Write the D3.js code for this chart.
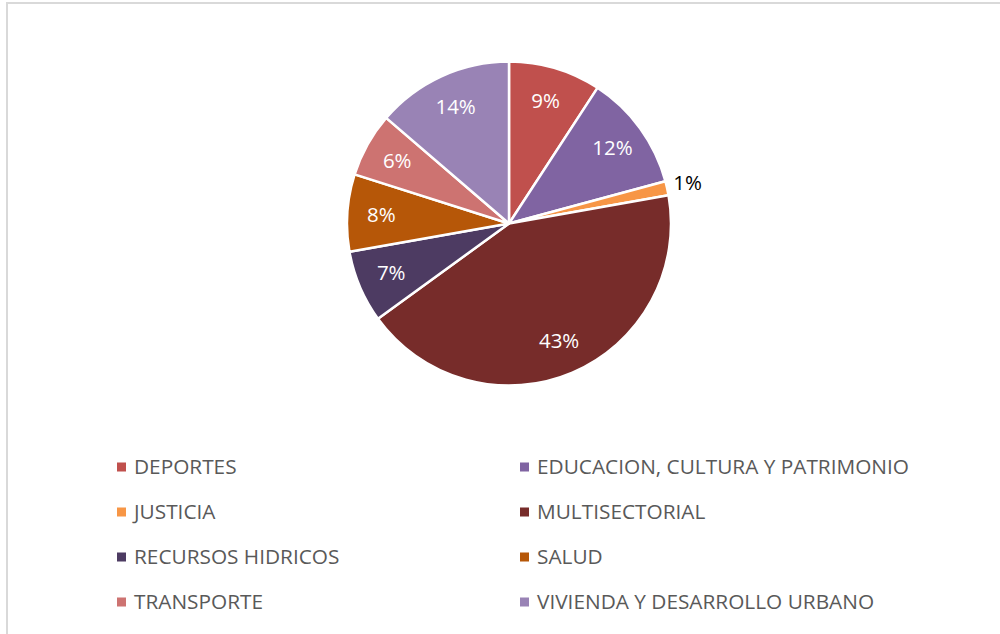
<!DOCTYPE html>
<html>
<head>
<meta charset="utf-8">
<script src="https://cdn.jsdelivr.net/npm/d3@7"></script>
<style>
  body { margin: 0; background: #fff; }
  svg { display: block; }
</style>
</head>
<body>
<div id="chart"></div>
<script>
// sectores y porcentajes
const sectors = ["DEPORTES", "EDUCACION, CULTURA Y PATRIMONIO", "JUSTICIA", "MULTISECTORIAL",
                 "RECURSOS HIDRICOS", "SALUD", "TRANSPORTE", "VIVIENDA Y DESARROLLO URBANO"];
const shares = [9.2, 11.6, 1.4, 42.8, 7.2, 7.7, 6.4, 13.7];
const labels = ["9%", "12%", "1%", "43%", "7%", "8%", "6%", "14%"];
const colors = ["#C0504D", "#8064A2", "#F79646", "#772C2A", "#4D3B62", "#B65708", "#CD7371", "#9983B5"];

const width = 1000, height = 634;
const cx = 509, cy = 223.5, radius = 162;

const svg = d3.select("#chart").append("svg")
    .attr("width", width)
    .attr("height", height);

// marco del area de grafico
svg.append("rect")
    .attr("x", 7).attr("y", 3)
    .attr("width", 1000).attr("height", 700)
    .attr("fill", "none")
    .attr("stroke", "#D9D9D9")
    .attr("stroke-width", 2);

const data = sectors.map((s, i) => ({name: s, value: shares[i], label: labels[i], color: colors[i]}));

const pie = d3.pie().value(d => d.value).sort(null);
const arc = d3.arc().innerRadius(0).outerRadius(radius);
const labelArc = d3.arc().innerRadius(128).outerRadius(128);
const outArc = d3.arc().innerRadius(183).outerRadius(183);

const g = svg.append("g").attr("transform", `translate(${cx},${cy})`);
const arcs = pie(data);

g.selectAll("path")
    .data(arcs)
    .enter().append("path")
    .attr("d", arc)
    .attr("fill", d => d.data.color)
    .attr("stroke", "#fff")
    .attr("stroke-width", 2.5)
    .attr("stroke-linejoin", "round");

g.selectAll("text")
    .data(arcs)
    .enter().append("text")
    .attr("transform", d => {
      let small = d.data.value < 2;
      let c = small ? outArc.centroid(d) : labelArc.centroid(d);
      return `translate(${c[0]},${c[1]})`;
    })
    .attr("text-anchor", "middle")
    .attr("dy", "0.33em")
    .style("font-family", "'Open Sans', sans-serif")
    .style("font-size", "20.5px")
    .style("fill", d => d.data.value < 2 ? "#000" : "#fff")
    .text(d => d.data.label);

// leyenda en dos columnas
const legendX = [117, 520], legendY0 = 467, rowStep = 45;
const legend = svg.append("g")
    .selectAll("g")
    .data(data)
    .enter().append("g")
    .attr("transform", (d, i) => `translate(${legendX[i % 2]},${legendY0 + Math.floor(i / 2) * rowStep})`);

legend.append("rect")
    .attr("x", 0).attr("y", -4.5)
    .attr("width", 9).attr("height", 9)
    .attr("fill", d => d.color);

legend.append("text")
    .attr("x", 17)
    .attr("dy", "0.35em")
    .style("font-family", "'Open Sans', sans-serif")
    .style("font-size", "20.8px")
    .style("fill", "#595959")
    .text(d => d.name);
</script>
</body>
</html>
